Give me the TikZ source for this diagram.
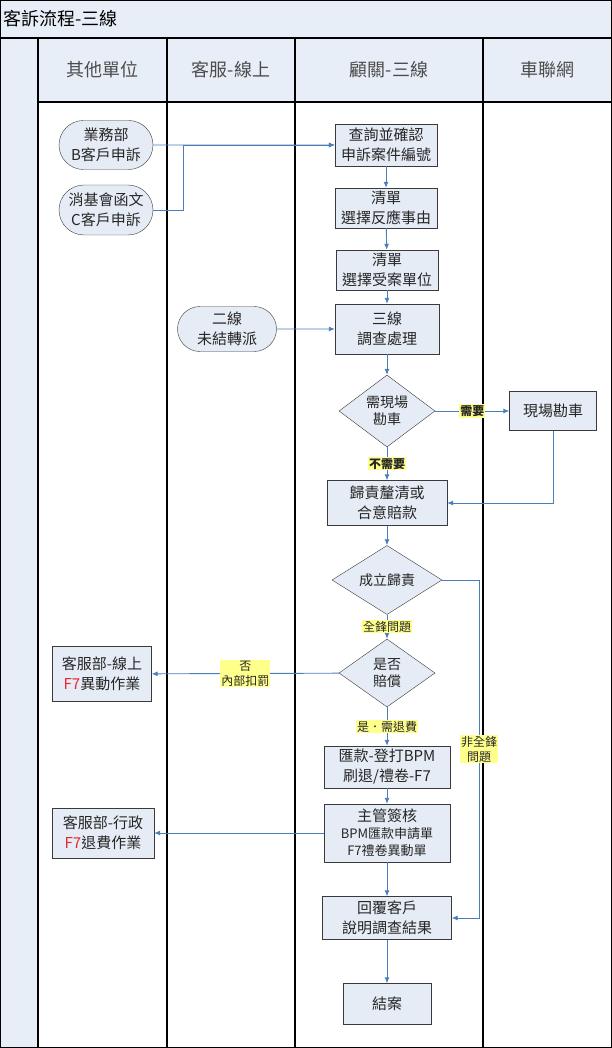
\documentclass[tikz,border=0pt]{standalone}
\usepackage{fontspec}
\setmainfont{Noto Sans CJK TC}
\usetikzlibrary{arrows.meta,shapes.geometric,shapes.misc,positioning}
\definecolor{lanefill}{HTML}{E8EEF7}
\definecolor{boxfill}{HTML}{E6ECF5}
\definecolor{boxline}{HTML}{3A3A3A}
\definecolor{flowblue}{HTML}{4A7EBB}
\definecolor{tagyellow}{HTML}{FFFF8C}
\definecolor{fseven}{HTML}{E8262F}

\begin{document}
\begin{tikzpicture}[x=1pt,y=-1pt,
    every node/.style={text=black!85,inner sep=0pt},
    proc/.style={rectangle,draw=boxline,fill=boxfill,align=center,font=\fontsize{15}{20}\selectfont},
    term/.style={rounded rectangle,draw=boxline,fill=boxfill,align=center,font=\fontsize{15}{20}\selectfont},
    dec/.style={diamond,draw=boxline,fill=boxfill,align=center,font=\fontsize{14}{17}\selectfont},
    flow/.style={draw=flowblue,line width=0.9pt,-{Latex[length=6pt,width=5pt]}},
    tag/.style={fill=tagyellow,inner sep=1pt,align=center,font=\fontsize{12}{15}\selectfont},
    lane/.style={draw=black,line width=1.2pt},
    head/.style={text=black!70,font=\fontsize{18}{20}\selectfont}]
    \useasboundingbox (0,0) rectangle (612,1048);

    % lanes
    \fill[lanefill] (0,0) rectangle (612,38);
    \fill[lanefill] (0,38) rectangle (38,1048);
    \fill[lanefill] (38,38) rectangle (612,102);
    \draw[lane] (0.6,0.6) rectangle (611.4,1047.4);
    \draw[lane] (0,38) -- (612,38);
    \draw[lane] (38,102) -- (612,102);
    \foreach \x in {38,167,295,483}
        \draw[lane] (\x,38) -- (\x,1048);

    \node[anchor=west,font=\fontsize{18}{20}\selectfont,text=black] (title) at (3,19) {客訴流程-三線};
    \node[head] (h1) at (102,70) {其他單位};
    \node[head] (h2) at (231,70) {客服-線上};
    \node[head] (h3) at (389,70) {顧關-三線};
    \node[head] (h4) at (547,70) {車聯網};

    % steps
    \node[term,minimum width=94pt,minimum height=49pt] (bdept) at (106,145) {業務部\\B客戶申訴};
    \node[term,minimum width=94pt,minimum height=50pt] (cdept) at (106,210) {消基會函文\\C客戶申訴};
    \node[proc,minimum width=102pt,minimum height=42pt] (check) at (386,145) {查詢並確認\\申訴案件編號};
    \node[proc,minimum width=102pt,minimum height=40pt] (reason) at (386,208) {清單\\選擇反應事由};
    \node[proc,minimum width=102pt,minimum height=40pt] (unit) at (387,270) {清單\\選擇受案單位};
    \node[proc,minimum width=104pt,minimum height=50pt] (third) at (387,329) {三線\\調查處理};
    \node[term,minimum width=99pt,minimum height=45pt] (second) at (227,329) {二線\\未結轉派};
    \node[dec,minimum width=96pt,minimum height=72pt] (q1) at (387,411) {需現場\\勘車};
    \node[proc,minimum width=87pt,minimum height=39pt] (site) at (553,411) {現場勘車};
    \node[proc,minimum width=120pt,minimum height=45pt] (blame) at (387,503) {歸責釐清或\\合意賠款};
    \node[dec,minimum width=110pt,minimum height=68pt] (q2) at (387,580) {成立歸責};
    \node[dec,minimum width=96pt,minimum height=68pt] (q3) at (387,673) {是否\\賠償};
    \node[proc,minimum width=99pt,minimum height=55pt] (ops) at (102,674) {客服部-線上\\{\color{fseven}F7}異動作業};
    \node[proc,minimum width=126pt,minimum height=42pt] (refund) at (387,767) {匯款-登打BPM\\刷退/禮卷-F7};
    \node[proc,minimum width=126pt,minimum height=58pt] (approve) at (387,833)
        {主管簽核\\[-3pt]{\fontsize{13}{16}\selectfont BPM匯款申請單}\\[-3pt]{\fontsize{13}{16}\selectfont F7禮卷異動單}};
    \node[proc,minimum width=102pt,minimum height=50pt] (admin) at (103,833) {客服部-行政\\{\color{fseven}F7}退費作業};
    \node[proc,minimum width=129pt,minimum height=43pt] (reply) at (387,918) {回覆客戶\\說明調查結果};
    \node[proc,minimum width=88pt,minimum height=41pt] (close) at (387,1004) {結案};

    % connectors
    \draw[flow] (bdept) -- (check);
    \draw[flow] (cdept.east) -- ++(30,0) |- (check.west);
    \draw[flow] (check) -- (reason);
    \draw[flow] (reason) -- (unit);
    \draw[flow] (unit) -- (third);
    \draw[flow] (second) -- (third);
    \draw[flow] (third) -- (q1);
    \draw[flow] (q1) -- node[tag,font=\fontsize{12}{15}\selectfont\bfseries] (need) {需要} (site);
    \draw[flow] (q1) -- node[tag,font=\fontsize{12}{15}\selectfont\bfseries] (noneed) {不需要} (blame);
    \draw[flow] (site.south) |- (blame.east);
    \draw[flow] (blame) -- (q2);
    \draw[flow] (q2) -- node[tag] (full) {全鋒問題} (q3);
    \draw[flow] (q3) -- node[tag] (no) {否\\內部扣罰} (ops);
    \draw[flow] (q3) -- node[tag] (yes) {是．需退費} (refund);
    \draw[flow] (refund) -- (approve);
    \draw[flow] (approve) -- (admin);
    \draw[flow] (approve) -- (reply);
    \draw[flow] (q2.east) -- ++(37,0) |- node[tag,pos=0.25] (notfull) {非全鋒\\問題} (reply.east);
    \draw[flow] (reply) -- (close);
\end{tikzpicture}
\end{document}
